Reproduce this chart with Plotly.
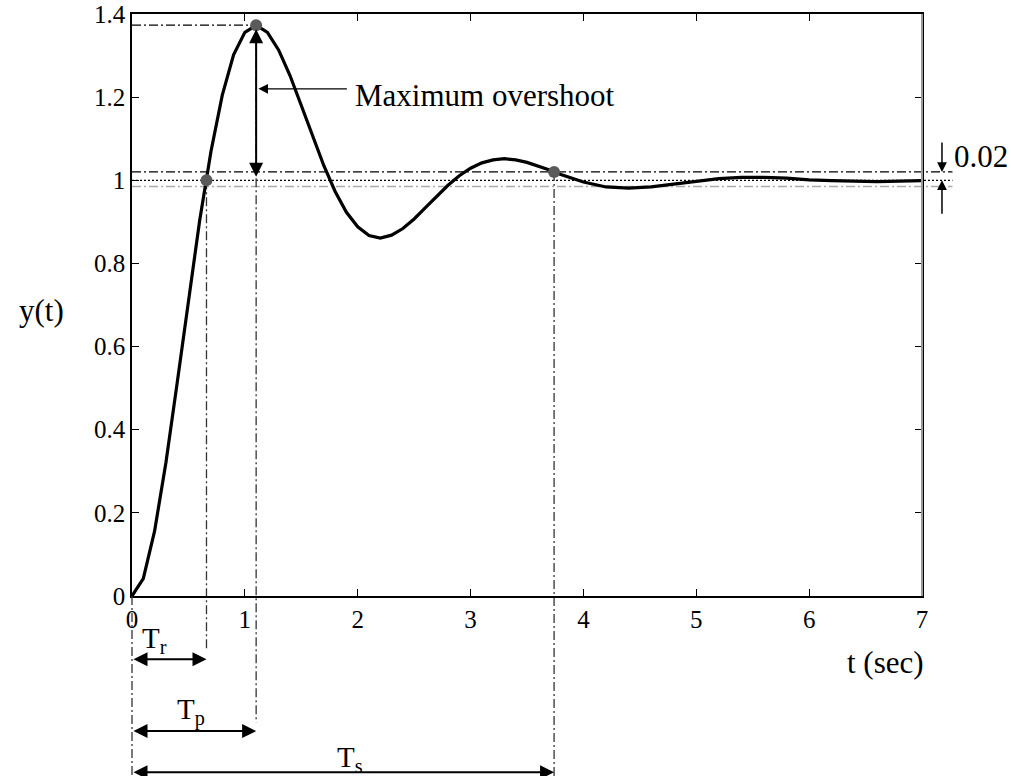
import plotly.graph_objects as go

# Step response samples y(t)
t = [0.0, 0.1, 0.2, 0.3, 0.4, 0.5, 0.6, 0.7, 0.8, 0.9,
     1.0, 1.1, 1.2, 1.3, 1.4, 1.5, 1.6, 1.7, 1.8, 1.9,
     2.0, 2.1, 2.2, 2.3, 2.4, 2.5, 2.6, 2.7, 2.8, 2.9,
     3.0, 3.1, 3.2, 3.3, 3.4, 3.5, 3.6, 3.7, 3.8, 3.9,
     4.0, 4.2, 4.4, 4.6, 4.8, 5.0, 5.2, 5.4, 5.6, 5.8,
     6.0, 6.2, 6.4, 6.6, 6.8, 7.0]
y = [0.000, 0.042, 0.156, 0.320, 0.512, 0.713, 0.904, 1.070, 1.205, 1.302,
     1.356, 1.373, 1.356, 1.313, 1.252, 1.180, 1.105, 1.035, 0.973, 0.923,
     0.888, 0.867, 0.861, 0.868, 0.884, 0.907, 0.934, 0.961, 0.988, 1.011,
     1.029, 1.042, 1.049, 1.052, 1.049, 1.043, 1.034, 1.025, 1.014, 1.004,
     0.996, 0.984, 0.981, 0.984, 0.991, 0.998, 1.004, 1.007, 1.007, 1.005,
     1.001, 0.999, 0.998, 0.997, 0.998, 0.999]

# Characteristic times and levels
T_R = 0.66      # rise time
T_P = 1.1       # peak time
T_S = 3.74      # settling time
Y_PEAK = 1.373
Y_FINAL = 1.0
BAND_HI = 1.02
BAND_LO = 0.985

x_ticks = [0, 1, 2, 3, 4, 5, 6, 7]
y_ticks = [0, 0.2, 0.4, 0.6, 0.8, 1.0, 1.2, 1.4]
y_tick_text = ["0", "0.2", "0.4", "0.6", "0.8", "1", "1.2", "1.4"]

X_MAX, Y_MAX = 7.0, 1.4
W, H = 1011, 776
M_L, M_R, M_T, M_B = 132, 89, 14, 180
PW = W - M_L - M_R
PH = H - M_T - M_B
PX_PER_T = PW / X_MAX
PX_PER_Y = PH / Y_MAX

FONT = "Liberation Serif"
BLACK = "#000000"
DARK = "#333333"
GRAY = "#aaaaaa"
DASHDOT = "9px,3px,2px,3px"
TXT = 31


def px(tv):
    """time value -> paper x"""
    return tv / X_MAX


def py(v):
    """response value -> paper y"""
    return v / Y_MAX


fig = go.Figure()

fig.add_trace(go.Scatter(
    x=t, y=y, mode="lines",
    line=dict(color=BLACK, width=3.2),
    cliponaxis=False, showlegend=False, hoverinfo="skip",
))

fig.add_trace(go.Scatter(
    x=[T_R, T_P, T_S], y=[Y_FINAL, Y_PEAK, BAND_HI], mode="markers",
    marker=dict(color="#5a5a5a", size=12),
    cliponaxis=False, showlegend=False, hoverinfo="skip",
))

shapes = []


def hline(v, x0, x1, color, dash, width=1.3, layer="below"):
    shapes.append(dict(type="line", xref="paper", yref="paper",
                       x0=px(x0), x1=px(x1), y0=py(v), y1=py(v),
                       line=dict(color=color, width=width, dash=dash),
                       layer=layer))


def vline(tv, v0, v1, color, dash, width=1.3, layer="below"):
    shapes.append(dict(type="line", xref="paper", yref="paper",
                       x0=px(tv), x1=px(tv), y0=py(v0), y1=py(v1),
                       line=dict(color=color, width=width, dash=dash),
                       layer=layer))


band_end = 7.27
hline(Y_PEAK, 0, T_P, BLACK, DASHDOT)
hline(BAND_HI, 0, band_end, BLACK, DASHDOT)
hline(Y_FINAL, 0, band_end, BLACK, "2px,2px")
hline(BAND_LO, 0, band_end, GRAY, DASHDOT)

bottom = -0.433
vline(0, 0, bottom, DARK, DASHDOT, layer="above")
vline(T_R, Y_FINAL, -0.13, DARK, DASHDOT)
vline(T_P, Y_PEAK, -0.304, DARK, DASHDOT)
vline(T_S, BAND_HI, bottom, DARK, DASHDOT)

# right frame edge in light gray
shapes.append(dict(type="line", xref="paper", yref="paper",
                   x0=1, x1=1, y0=0, y1=1,
                   line=dict(color="#9a9a9a", width=2), layer="above"))

annotations = []


def dim_arrow(v, t_end, label, label_t, label_v):
    annotations.append(dict(
        xref="paper", yref="paper", x=px(t_end), y=py(v),
        ax=-t_end * PX_PER_T, ay=0, axref="pixel", ayref="pixel",
        text="", showarrow=True, arrowhead=2, arrowside="end+start",
        arrowsize=1.4, arrowwidth=2, arrowcolor=BLACK,
        standoff=0, startstandoff=0,
    ))
    annotations.append(dict(
        xref="paper", yref="paper", x=px(label_t), y=py(label_v),
        xanchor="left", yanchor="middle", showarrow=False,
        text=label, font=dict(family=FONT, size=29, color=BLACK),
    ))


dim_arrow(-0.152, T_R, "T<sub>r</sub>", 0.07, -0.105)
dim_arrow(-0.325, T_P, "T<sub>p</sub>", 0.38, -0.278)
dim_arrow(-0.424, T_S, "T<sub>s</sub>", 1.80, -0.392)

# overshoot double arrow
annotations.append(dict(
    xref="x", yref="y", x=T_P, y=Y_PEAK, axref="x", ayref="y",
    ax=T_P, ay=Y_FINAL, text="", showarrow=True, arrowhead=2,
    arrowside="end+start", arrowsize=1.4, arrowwidth=2, arrowcolor=BLACK,
    standoff=4, startstandoff=2,
))
# pointer and label
annotations.append(dict(
    xref="x", yref="y", x=T_P + 0.02, y=1.22, axref="pixel", ayref="pixel",
    ax=90, ay=0, text="", showarrow=True, arrowhead=2, arrowsize=1.6,
    arrowwidth=1.2, arrowcolor=BLACK, standoff=0,
))
annotations.append(dict(
    xref="x", yref="y", x=1.96, y=1.205, xanchor="left", yanchor="middle",
    showarrow=False, text="Maximum overshoot",
    font=dict(family=FONT, size=TXT, color=BLACK),
))

# 0.02 band indicator
ind_t = 7.177
annotations.append(dict(
    xref="paper", yref="paper", x=px(ind_t), y=py(BAND_HI),
    axref="pixel", ayref="pixel", ax=0, ay=-31, text="", showarrow=True,
    arrowhead=2, arrowsize=1.3, arrowwidth=1.5, arrowcolor=BLACK, standoff=0,
))
annotations.append(dict(
    xref="paper", yref="paper", x=px(ind_t), y=py(Y_FINAL),
    axref="pixel", ayref="pixel", ax=0, ay=35, text="", showarrow=True,
    arrowhead=2, arrowsize=1.3, arrowwidth=1.5, arrowcolor=BLACK, standoff=0,
))
annotations.append(dict(
    xref="paper", yref="paper", x=px(7.27), y=py(1.058),
    xanchor="left", yanchor="middle", showarrow=False, text="0.02",
    font=dict(family=FONT, size=TXT, color=BLACK),
))

# axis titles
annotations.append(dict(
    xref="paper", yref="paper", x=px(-0.806), y=py(0.686),
    xanchor="center", yanchor="middle", showarrow=False, text="y(t)",
    font=dict(family=FONT, size=TXT, color=BLACK),
))
annotations.append(dict(
    xref="paper", yref="paper", x=px(6.68), y=py(-0.161),
    xanchor="center", yanchor="middle", showarrow=False, text="t (sec)",
    font=dict(family=FONT, size=TXT, color=BLACK),
))

axis_common = dict(
    showline=True, linecolor=BLACK, linewidth=1.5, mirror="ticks",
    ticks="inside", ticklen=7, tickwidth=1.2, tickcolor=BLACK,
    showgrid=False, zeroline=False, automargin=False,
    tickfont=dict(family=FONT, size=25, color=BLACK),
)

fig.update_layout(
    template="none",
    width=W, height=H,
    margin=dict(l=M_L, r=M_R, t=M_T, b=M_B, autoexpand=False),
    paper_bgcolor="white", plot_bgcolor="white",
    font=dict(family=FONT, color=BLACK),
    xaxis=dict(range=[0, X_MAX], tickvals=x_ticks, **axis_common),
    yaxis=dict(range=[0, Y_MAX], tickvals=y_ticks, ticktext=y_tick_text,
               **axis_common),
    shapes=shapes, annotations=annotations, showlegend=False,
)

fig.write_html("out.html")
